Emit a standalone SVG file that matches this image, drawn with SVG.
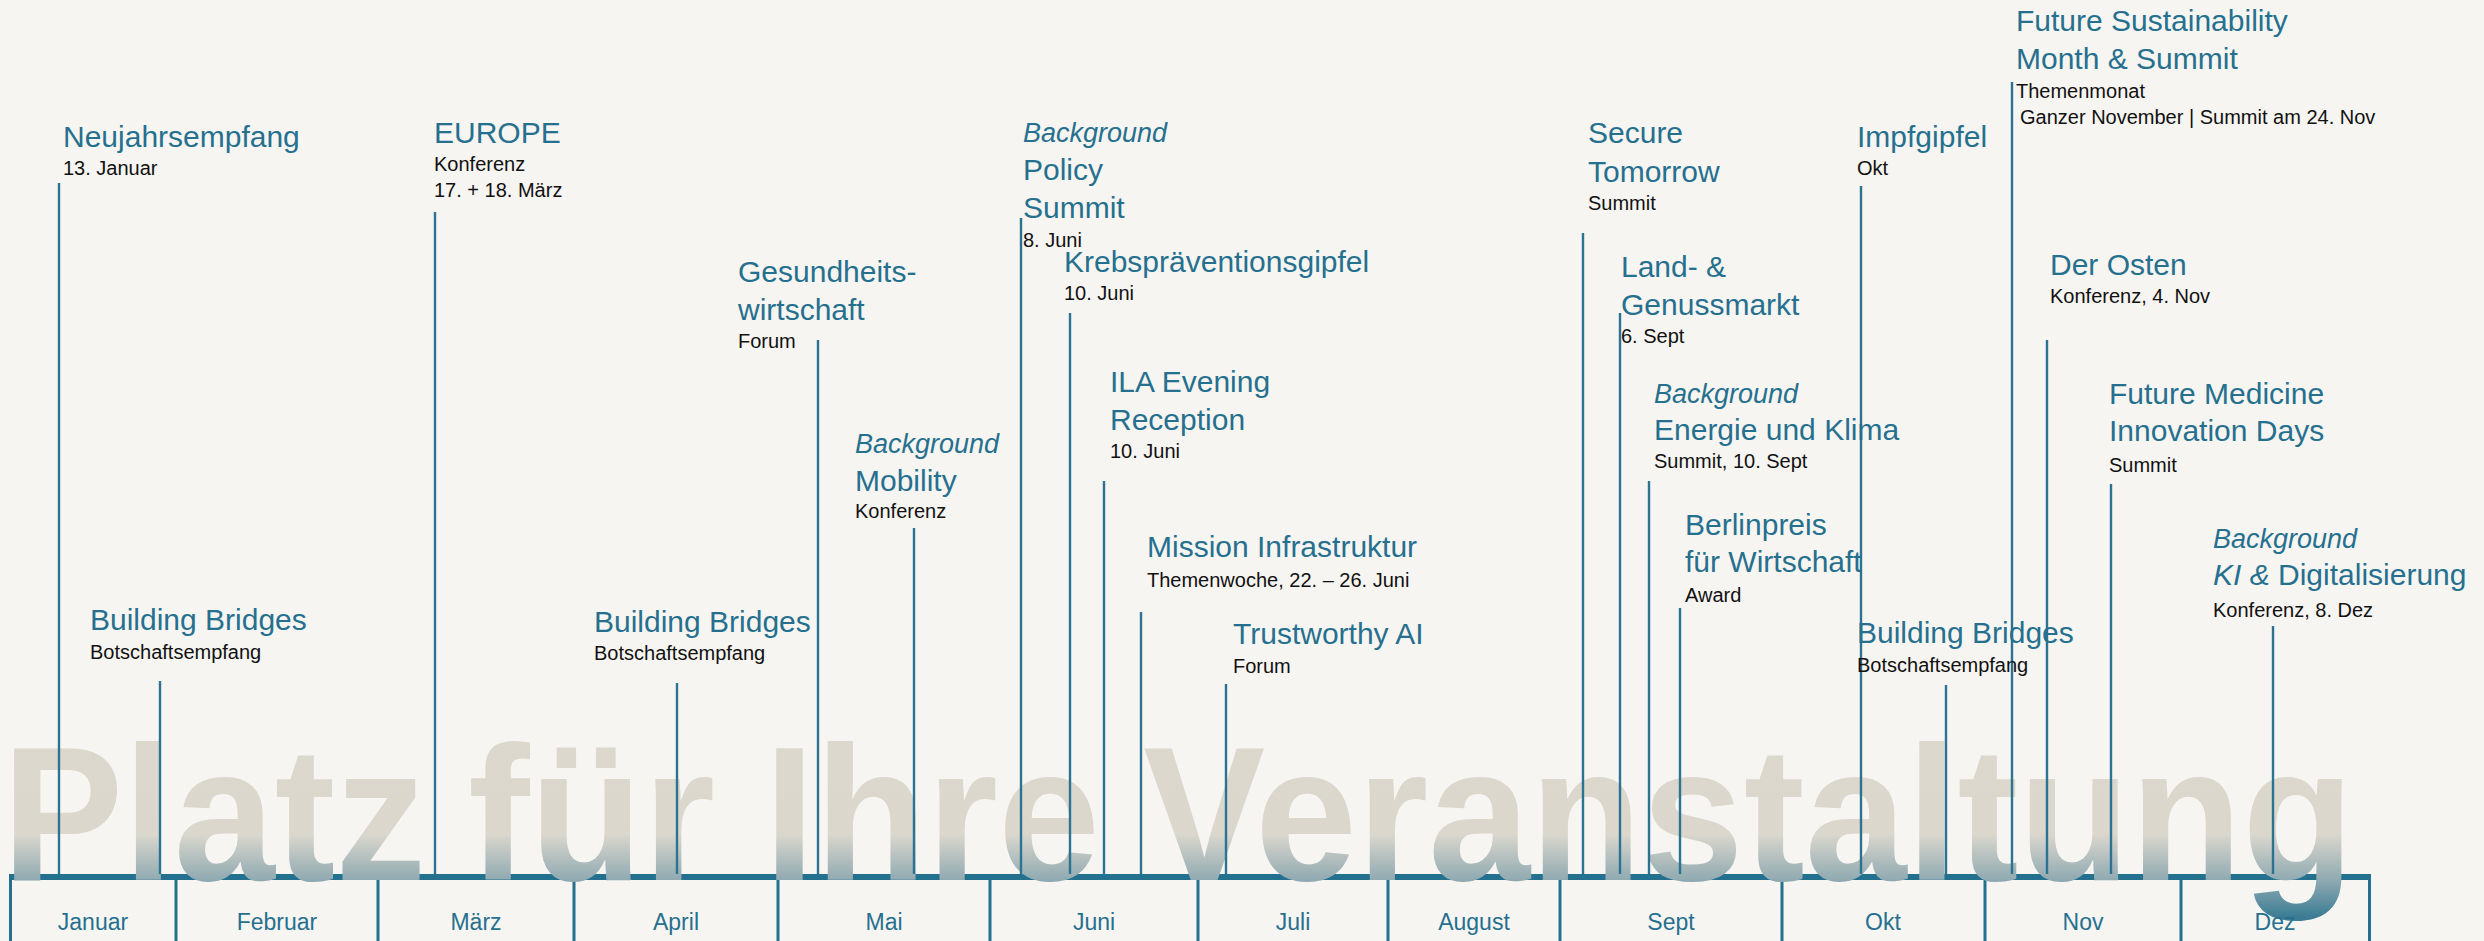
<svg xmlns="http://www.w3.org/2000/svg" width="2484" height="941" viewBox="0 0 2484 941">
<style>
.t{font-family:"Liberation Sans",Arial,sans-serif;font-size:30px;fill:#26708f}
.i{font-family:"Liberation Sans",Arial,sans-serif;font-size:27px;font-style:italic;fill:#26708f}
.s{font-family:"Liberation Sans",Arial,sans-serif;font-size:20px;fill:#111111}
.m{font-family:"Liberation Sans",Arial,sans-serif;font-size:23px;fill:#26708f;text-anchor:middle}
.big{font-family:"Liberation Sans",Arial,sans-serif;font-size:191px;font-weight:bold;fill:url(#fade)}
.ln{stroke:#2b7293;stroke-width:2.4;fill:none}
.tk{stroke:#23708f;stroke-width:3;fill:none}
</style>
<defs>
<linearGradient id="fade" gradientUnits="userSpaceOnUse" x1="0" y1="700" x2="0" y2="920">
<stop offset="0" stop-color="#dcd8ce"/>
<stop offset="0.61" stop-color="#dbd7cd"/>
<stop offset="0.82" stop-color="#8fa9b1"/>
<stop offset="0.98" stop-color="#3e7e95"/>
<stop offset="1" stop-color="#3a7a92"/>
</linearGradient>
</defs>
<rect width="2484" height="941" fill="#f7f5f1"/>
<g id="axis">
<rect x="9" y="874" width="2362" height="6" fill="#23708f"/>
<path class="tk" d="M10.5 874V941M176 874V941M378 874V941M574 874V941M778 874V941M990 874V941M1198 874V941M1388 874V941M1560 874V941M1782 874V941M1985 874V941M2181 874V941M2369.5 874V941"/>
</g>
<g id="watermark">
<text class="big" x="2" y="880" textLength="424" lengthAdjust="spacingAndGlyphs">Platz</text>
<text class="big" x="468" y="880" textLength="247" lengthAdjust="spacingAndGlyphs">für</text>
<text class="big" x="764" y="880" textLength="336" lengthAdjust="spacingAndGlyphs">Ihre</text>
<text class="big" x="1143" y="880" textLength="1211" lengthAdjust="spacingAndGlyphs">Veranstaltung</text>
</g>
<g id="months">
<text class="m" x="93" y="930">Januar</text>
<text class="m" x="277" y="930">Februar</text>
<text class="m" x="476" y="930">März</text>
<text class="m" x="676" y="930">April</text>
<text class="m" x="884" y="930">Mai</text>
<text class="m" x="1094" y="930">Juni</text>
<text class="m" x="1293" y="930">Juli</text>
<text class="m" x="1474" y="930">August</text>
<text class="m" x="1671" y="930">Sept</text>
<text class="m" x="1883" y="930">Okt</text>
<text class="m" x="2083" y="930">Nov</text>
<text class="m" x="2275" y="930">Dez</text>
</g>
<g id="connectors">
<path class="ln" d="M59 183V874"/>
<path class="ln" d="M435 212V874"/>
<path class="ln" d="M160 681V874"/>
<path class="ln" d="M677 683V874"/>
<path class="ln" d="M818 340V874"/>
<path class="ln" d="M1021 218V874"/>
<path class="ln" d="M1070 313V874"/>
<path class="ln" d="M1104 481V874"/>
<path class="ln" d="M1141 612V874"/>
<path class="ln" d="M1226 684V874"/>
<path class="ln" d="M914 528V874"/>
<path class="ln" d="M1583 233V874"/>
<path class="ln" d="M1620 313V874"/>
<path class="ln" d="M1861 186V874"/>
<path class="ln" d="M2012 82V874"/>
<path class="ln" d="M2047 340V874"/>
<path class="ln" d="M1649 481V874"/>
<path class="ln" d="M1680 608V874"/>
<path class="ln" d="M1946 685V874"/>
<path class="ln" d="M2111 484V874"/>
<path class="ln" d="M2273 626V874"/>
</g>
<g id="neujahrsempfang"><text class="t" x="63" y="147">Neujahrsempfang</text><text class="s" x="63" y="175">13. Januar</text></g>
<g id="europe"><text class="t" x="434" y="143">EUROPE</text><text class="s" x="434" y="171">Konferenz</text><text class="s" x="434" y="197">17. + 18. März</text></g>
<g id="building-bridges-1"><text class="t" x="90" y="630">Building Bridges</text><text class="s" x="90" y="659">Botschaftsempfang</text></g>
<g id="building-bridges-2"><text class="t" x="594" y="632">Building Bridges</text><text class="s" x="594" y="660">Botschaftsempfang</text></g>
<g id="gesundheitswirtschaft"><text class="t" x="738" y="282">Gesundheits-</text><text class="t" x="738" y="320">wirtschaft</text><text class="s" x="738" y="348">Forum</text></g>
<g id="policy-summit"><text class="i" x="1023" y="142">Background</text><text class="t" x="1023" y="180">Policy</text><text class="t" x="1023" y="218">Summit</text><text class="s" x="1023" y="247">8. Juni</text></g>
<g id="krebspraevention"><text class="t" x="1064" y="272">Krebspräventionsgipfel</text><text class="s" x="1064" y="300">10. Juni</text></g>
<g id="ila"><text class="t" x="1110" y="392">ILA Evening</text><text class="t" x="1110" y="430">Reception</text><text class="s" x="1110" y="458">10. Juni</text></g>
<g id="mission-infrastruktur"><text class="t" x="1147" y="557">Mission Infrastruktur</text><text class="s" x="1147" y="587">Themenwoche, 22. – 26. Juni</text></g>
<g id="trustworthy-ai"><text class="t" x="1233" y="644">Trustworthy AI</text><text class="s" x="1233" y="673">Forum</text></g>
<g id="mobility"><text class="i" x="855" y="453">Background</text><text class="t" x="855" y="491">Mobility</text><text class="s" x="855" y="518">Konferenz</text></g>
<g id="secure-tomorrow"><text class="t" x="1588" y="143">Secure</text><text class="t" x="1588" y="182">Tomorrow</text><text class="s" x="1588" y="210">Summit</text></g>
<g id="land-genussmarkt"><text class="t" x="1621" y="277">Land- &amp;</text><text class="t" x="1621" y="315">Genussmarkt</text><text class="s" x="1621" y="343">6. Sept</text></g>
<g id="impfgipfel"><text class="t" x="1857" y="147">Impfgipfel</text><text class="s" x="1857" y="175">Okt</text></g>
<g id="future-sustainability"><text class="t" x="2016" y="31">Future Sustainability</text><text class="t" x="2016" y="69">Month &amp; Summit</text><text class="s" x="2016" y="98">Themenmonat</text><text class="s" x="2020" y="124">Ganzer November | Summit am 24. Nov</text></g>
<g id="der-osten"><text class="t" x="2050" y="275">Der Osten</text><text class="s" x="2050" y="303">Konferenz, 4. Nov</text></g>
<g id="energie-klima"><text class="i" x="1654" y="403">Background</text><text class="t" x="1654" y="440">Energie und Klima</text><text class="s" x="1654" y="468">Summit, 10. Sept</text></g>
<g id="berlinpreis"><text class="t" x="1685" y="535">Berlinpreis</text><text class="t" x="1685" y="572">für Wirtschaft</text><text class="s" x="1685" y="602">Award</text></g>
<g id="building-bridges-3"><text class="t" x="1857" y="643">Building Bridges</text><text class="s" x="1857" y="672">Botschaftsempfang</text></g>
<g id="future-medicine"><text class="t" x="2109" y="404">Future Medicine</text><text class="t" x="2109" y="441">Innovation Days</text><text class="s" x="2109" y="472">Summit</text></g>
<g id="ki-digitalisierung"><text class="i" x="2213" y="548">Background</text><text class="t" x="2213" y="585"><tspan font-style="italic">KI &amp;</tspan> Digitalisierung</text><text class="s" x="2213" y="617">Konferenz, 8. Dez</text></g>
</svg>
